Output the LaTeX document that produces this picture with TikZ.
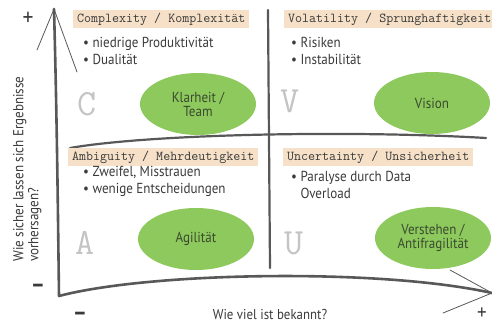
\documentclass[tikz,border=0pt]{standalone}
\usepackage{fontspec}
\setmainfont{PT Sans}[FakeStretch=0.9]
\usetikzlibrary{shapes.geometric}

\definecolor{axisgray}{HTML}{585858}
\definecolor{textgray}{HTML}{3A3A3A}
\definecolor{lettergray}{HTML}{C4C4C4}
\definecolor{leafgreen}{HTML}{8DC95C}
\definecolor{leaftext}{HTML}{3B4A30}
\definecolor{marker}{HTML}{F6E1C8}

\tikzset{
  axis/.style={line width=2.6pt, axisgray, line cap=round},
  divider/.style={line width=2.2pt, axisgray, line cap=round},
  tipline/.style={line width=0.8pt, axisgray, line cap=round},
  header/.style={fill=marker, anchor=west, inner xsep=4pt, inner ysep=3pt,
    font=\ttfamily\fontsize{13.6}{14}\selectfont, text=textgray},
  bullets/.style={anchor=north west, align=left, inner sep=0pt,
    font=\fontsize{14.5}{17}\selectfont, text=textgray},
  quadletter/.style={font=\ttfamily\fontsize{37}{37}\selectfont, text=lettergray},
  answer/.style={ellipse, fill=leafgreen, minimum width=116pt, minimum height=62pt,
    inner sep=0pt, align=center, font=\fontsize{14.5}{14}\selectfont, text=leaftext},
  sign/.style={inner sep=0pt, font=\fontsize{24}{24}\selectfont, text=textgray},
}

\begin{document}
\begin{tikzpicture}[x=1pt,y=-1pt]
  \useasboundingbox (0,0) rectangle (492,326);

  % axes and dividers
  \coordinate (ytop) at (54,9);
  \coordinate (origin) at (59,296);
  \coordinate (xend) at (492,293);
  \coordinate (hleft) at (70,148);
  \coordinate (hright) at (486,138);
  \coordinate (vtop) at (268,10);
  \coordinate (vbot) at (270,268);

  \draw[axis] (ytop) .. controls (57,120) and (58,220) .. (origin);
  \draw[axis] (origin) .. controls (150,272) and (380,268) .. (xend);
  \draw[divider] (hleft) .. controls (150,134) and (350,130) .. (hright);
  \draw[divider] (vtop) -- (vbot);

  % sketched arrow tips
  \coordinate (ytipl) at (37,50);
  \coordinate (ytipr) at (77,72);
  \coordinate (xtipu) at (450,270);
  \coordinate (xtipd) at (443,313);
  \draw[tipline] (ytipl) -- (ytop) -- (ytipr);
  \draw[tipline] (xtipu) -- (xend) -- (xtipd);

  % quadrant headers
  \node[header] (hc) at (73,19) {Complexity / Komplexität};
  \node[header] (hv) at (284,19) {Volatility / Sprunghaftigkeit};
  \node[header] (ha) at (68,157) {Ambiguity / Mehrdeutigkeit};
  \node[header] (hu) at (283,157) {Uncertainty / Unsicherheit};

  % observations
  \node[bullets] (bc) at (83,37) {\textbullet\ niedrige Produktivität\\ \textbullet\ Dualität};
  \node[bullets] (bv) at (291,37) {\textbullet\ Risiken\\ \textbullet\ Instabilität};
  \node[bullets] (ba) at (83,166) {\textbullet\ Zweifel, Misstrauen\\ \textbullet\ wenige Entscheidungen};
  \node[bullets] (bu) at (291,169) {\begin{tabular}{@{}l@{\ }l@{}}\textbullet & Paralyse durch Data\\ & Overload\end{tabular}};

  % letters
  \node[quadletter] (lc) at (87,104) {C};
  \node[quadletter] (lv) at (290,101) {V};
  \node[quadletter] (la) at (85,243) {A};
  \node[quadletter] (lu) at (294,243) {U};

  % answers
  \node[answer] (klarheit) at (198,104) {Klarheit /\\ Team};
  \node[answer] (vision) at (432,103) {Vision};
  \node[answer] (agil) at (196,239) {Agilität};
  \node[answer] (verstehen) at (433,238) {Verstehen /\\ Antifragilität};

  % axis labels
  \node[rotate=90, anchor=north west, align=left, text=textgray, inner sep=0pt,
    font=\fontsize{14.5}{15}\selectfont] (ylabel) at (13,262)
    {Wie sicher lassen sich Ergebnisse\\ vorhersagen?};
  \node[text=textgray, font=\fontsize{14.3}{15}\selectfont] (xlabel) at (270,314) {Wie viel ist bekannt?};

  \node[sign] (yplus) at (28,19) {+};
  \node[sign] (yminus) at (38,288) {\bfseries --};
  \node[sign] (xminus) at (80,316) {\bfseries --};
  \node[sign, font=\fontsize{21}{21}\selectfont] (xplus) at (482,314) {+};
\end{tikzpicture}
\end{document}
